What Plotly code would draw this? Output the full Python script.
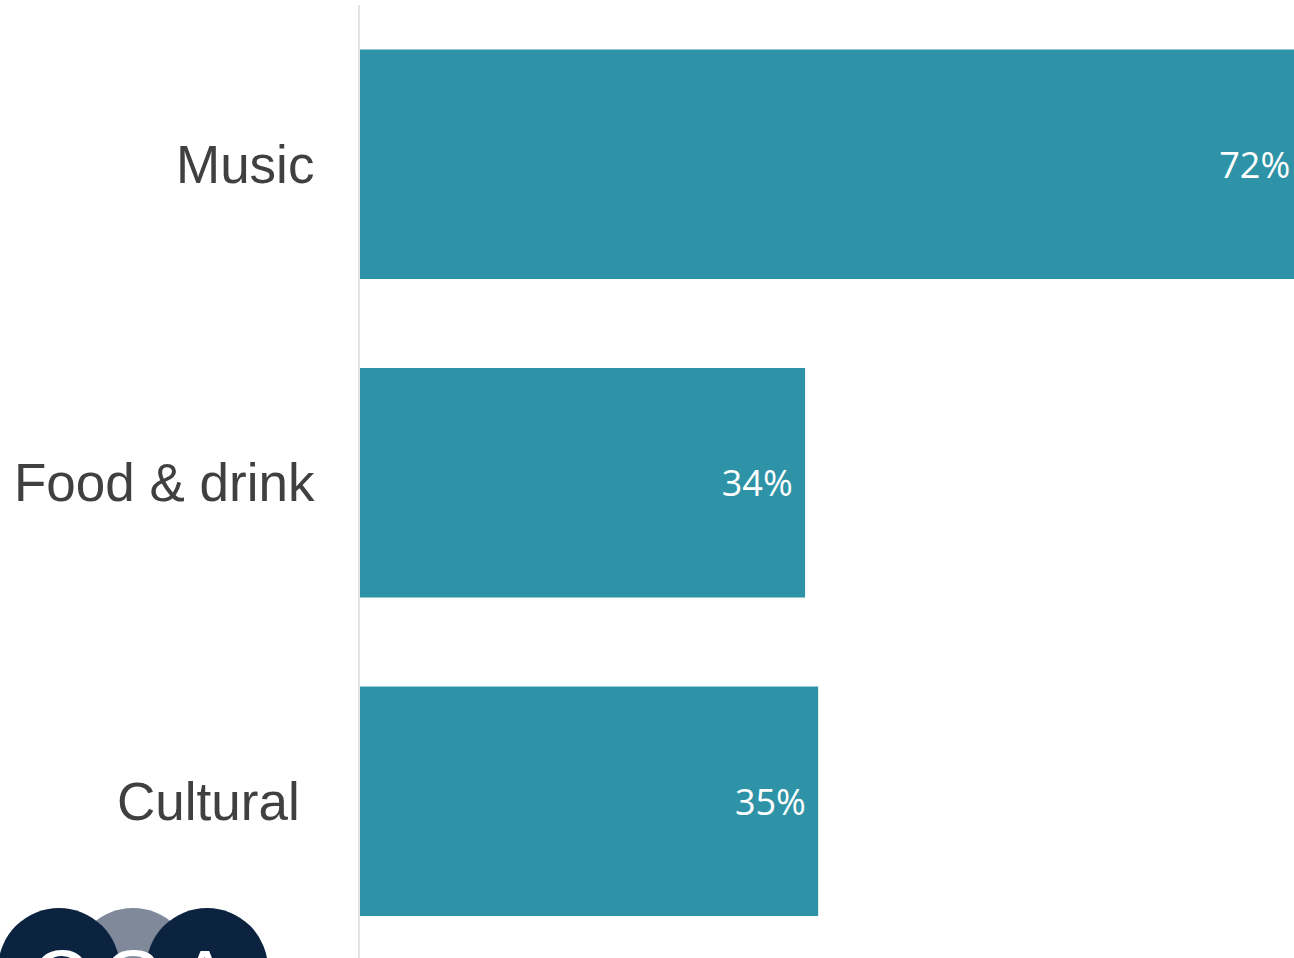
import plotly.graph_objects as go

categories = ["Music", "Food & drink", "Cultural"]
tick_labels = ["Music", "Food & drink", "Cultural\u00a0"]
values = [72, 34, 35]

W, H = 1294, 958
L, R, T, B = 360, 0, 5, 0
pw, ph = W - L - R, H - T - B

def px(x):
    return (x - L) / pw

def py(y):
    return (H - B - y) / ph

fig = go.Figure(go.Bar(
    y=categories, x=values, orientation="h",
    marker=dict(color="#2E93A7", line=dict(width=0)),
    text=[f"{v}%\u00a0" for v in values],
    textposition="inside", insidetextanchor="end",
    textfont=dict(family="Open Sans", size=36, color="white"),
    cliponaxis=True,
))

# logo
shapes = []
r = 61
cy = 969
for cx, col in [(133, "#7f8999"), (59, "#0c2340"), (207, "#0c2340")]:
    shapes.append(dict(type="circle", xref="paper", yref="paper",
                       x0=px(cx - r), x1=px(cx + r), y0=py(cy + r), y1=py(cy - r),
                       fillcolor=col, line=dict(width=0)))
annotations = []
for cx, ch in [(60, "C"), (133, "G"), (205, "A")]:
    annotations.append(dict(text=ch, xref="paper", yref="paper", x=px(cx), y=py(978),
                            xanchor="center", yanchor="middle", showarrow=False,
                            font=dict(family="Liberation Sans", size=80, color="white")))

fig.update_layout(
    width=W, height=H,
    margin=dict(l=L, r=R, t=T, b=B, pad=0, autoexpand=False),
    paper_bgcolor="white", plot_bgcolor="white",
    bargap=0.28, showlegend=False,
    shapes=shapes, annotations=annotations,
    xaxis=dict(range=[0, 71.35], visible=False, fixedrange=True, automargin=False),
    yaxis=dict(categoryorder="array", categoryarray=categories,
               tickvals=categories, ticktext=tick_labels,
               range=[-0.5 + ph / 318.5, -0.5], automargin=False,
               showline=True, linecolor="#e3e3e3", linewidth=2,
               showgrid=False, zeroline=False, ticks="",
               ticklabelstandoff=33,
               tickfont=dict(family="Liberation Sans", size=53, color="#404040")),
)

fig.write_html("out.html")
